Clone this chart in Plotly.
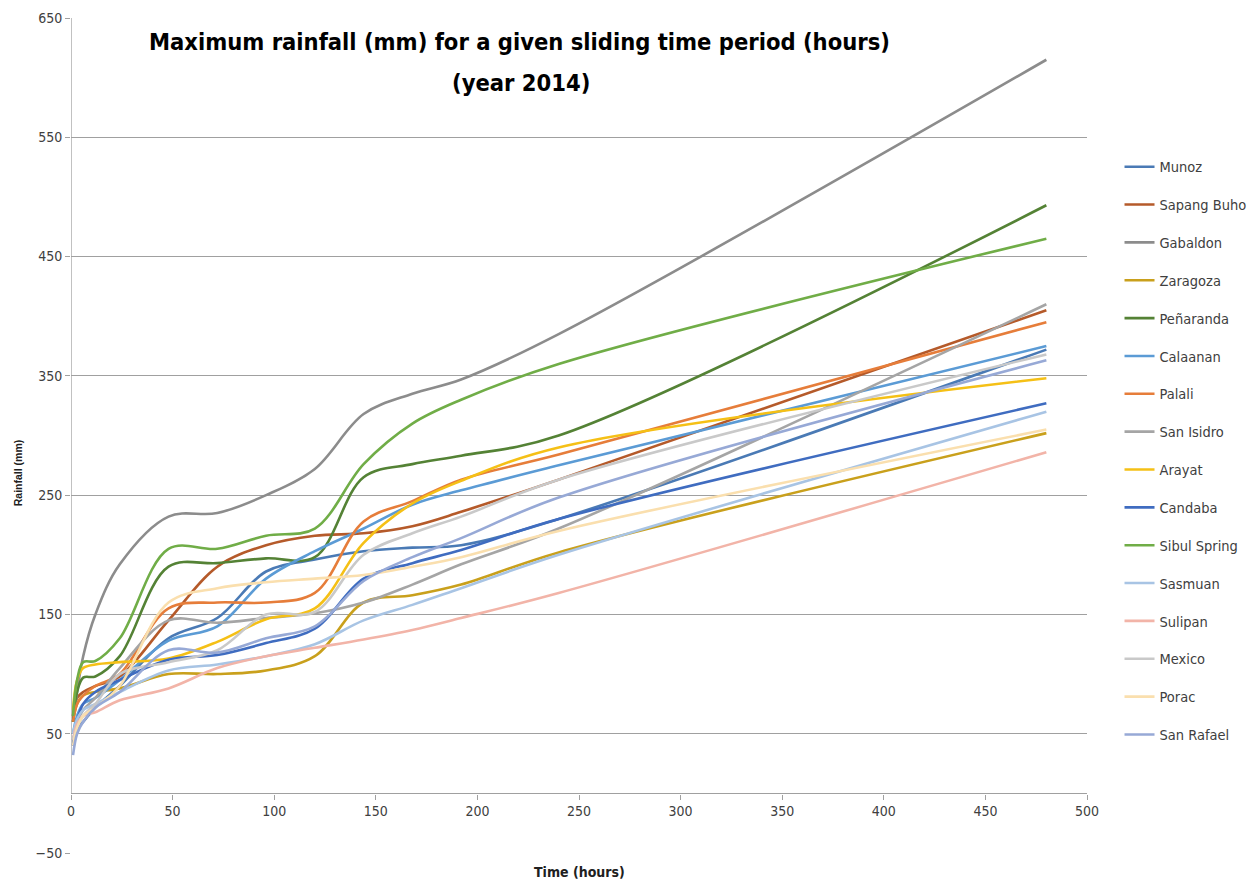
import plotly.graph_objects as go

HOURS = [1, 3, 6, 12, 24, 48, 72, 96, 120, 144, 168, 192, 240, 480]

munoz       = [45, 55, 60, 72, 90, 130, 147, 186, 196, 203, 206, 208, 230, 372]
sapang_buho = [65, 80, 85, 90, 98, 145, 190, 208, 216, 218, 224, 236, 263, 405]
gabaldon    = [60, 85, 115, 150, 192, 232, 235, 250, 272, 318, 335, 347, 385, 615]
zaragoza    = [60, 75, 82, 85, 88, 100, 100, 103, 115, 160, 166, 175, 202, 302]
penaranda   = [60, 85, 97, 98, 115, 190, 193, 197, 198, 265, 276, 283, 300, 493]
calaanan    = [50, 65, 75, 80, 95, 128, 140, 180, 203, 222, 242, 254, 275, 375]
palali      = [60, 75, 82, 90, 100, 155, 160, 160, 168, 228, 245, 263, 284, 395]
san_isidro  = [40, 60, 70, 80, 105, 145, 143, 147, 151, 160, 175, 192, 222, 410]
arayat      = [70, 95, 105, 108, 110, 113, 127, 146, 155, 210, 243, 262, 290, 348]
candaba     = [40, 60, 75, 85, 95, 112, 116, 126, 138, 180, 193, 204, 230, 327]
sibul       = [65, 95, 110, 111, 130, 205, 205, 216, 222, 276, 310, 330, 360, 465]
sasmuan     = [50, 62, 70, 75, 85, 103, 108, 115, 125, 145, 158, 172, 200, 320]
sulipan     = [45, 58, 65, 68, 78, 88, 105, 115, 122, 129, 137, 147, 168, 286]
mexico      = [45, 55, 65, 75, 100, 110, 120, 150, 152, 200, 218, 232, 263, 368]
porac       = [40, 55, 65, 72, 90, 160, 172, 177, 180, 183, 190, 198, 220, 305]
san_rafael  = [32, 50, 60, 72, 85, 120, 118, 130, 140, 178, 198, 214, 248, 363]

STATIONS = ["Munoz", "Sapang Buho", "Gabaldon", "Zaragoza", "Peñaranda", "Calaanan",
            "Palali", "San Isidro", "Arayat", "Candaba", "Sibul Spring", "Sasmuan",
            "Sulipan", "Mexico", "Porac", "San Rafael"]
VALUES = [munoz, sapang_buho, gabaldon, zaragoza, penaranda, calaanan, palali,
          san_isidro, arayat, candaba, sibul, sasmuan, sulipan, mexico, porac, san_rafael]
COLORS = ["#4a7ab5", "#b55a2a", "#8c8c8c", "#c9a01c", "#548235", "#5b9bd5",
          "#e67d3a", "#a5a5a5", "#f5c016", "#3f6cc0", "#70ad47", "#a8c4e4",
          "#f2b4a8", "#c9c9c9", "#fadfae", "#97a9d6"]

X_TICKS = [0, 50, 100, 150, 200, 250, 300, 350, 400, 450, 500]
Y_TICKS = [-50, 50, 150, 250, 350, 450, 550, 650]

TITLE_LINES = ["Maximum rainfall (mm) for a given sliding time period (hours)", "(year 2014)"]

FONT = "DejaVu Sans Condensed, DejaVu Sans, sans-serif"

fig = go.Figure()
for i, (name, vals, col) in enumerate(zip(STATIONS, VALUES, COLORS)):
    fig.add_trace(go.Scatter(
        x=HOURS, y=vals, name=name, mode="lines",
        line=dict(color=col, width=2.6, shape="spline", smoothing=1.0),
        legendgroup=f"g{i}",
    ))

Y_MIN, Y_MAX = Y_TICKS[0], Y_TICKS[-1]
zero_pos = (0 - Y_MIN) / (Y_MAX - Y_MIN)

fig.update_layout(
    width=1255, height=888,
    margin=dict(l=63, r=176, t=10, b=43, autoexpand=False),
    paper_bgcolor="white", plot_bgcolor="white",
    font=dict(family=FONT, color="#404040"),
    xaxis=dict(
        range=[X_TICKS[0], X_TICKS[-1]], tickmode="array", tickvals=X_TICKS,
        anchor="free", position=zero_pos,
        showline=True, linecolor="#a0a0a0", linewidth=1.3,
        ticks="outside", ticklen=5, tickcolor="#a0a0a0",
        showgrid=False, zeroline=False,
        tickfont=dict(size=14, color="#404040", family=FONT),
    ),
    yaxis=dict(
        range=[Y_MIN, Y_MAX], tickmode="array", tickvals=Y_TICKS,
        showgrid=True, gridcolor="#a0a0a0", gridwidth=1.3,
        showline=False, zeroline=False,
        ticks="outside", ticklen=5, tickcolor="#a0a0a0",
        tickfont=dict(size=14, color="#404040", family=FONT),
    ),
    legend=dict(
        x=1.032, xanchor="left", y=0.841, yanchor="top",
        font=dict(size=14.5, color="#404040", family=FONT),
        tracegroupgap=16, bgcolor="rgba(0,0,0,0)",
    ),
    showlegend=True,
)

# y axis line from the x-axis (y=0) to the top of the plot
fig.add_shape(type="line", xref="x", yref="y", x0=X_TICKS[0], x1=X_TICKS[0],
              y0=0, y1=Y_MAX, line=dict(color="#a0a0a0", width=1.3), layer="below")

# chart title (two lines, inside the plot area like the original)
fig.add_annotation(text=f"<b>{TITLE_LINES[0]}</b>", xref="paper", yref="paper",
                   x=(519 - 71) / 1016, xanchor="center", y=0.9713, yanchor="middle",
                   showarrow=False, font=dict(size=23.5, color="black", family=FONT))
fig.add_annotation(text=f"<b>{TITLE_LINES[1]}</b>", xref="paper", yref="paper",
                   x=(521 - 71) / 1016, xanchor="center", y=0.9222, yanchor="middle",
                   showarrow=False, font=dict(size=23.5, color="black", family=FONT))

fig.add_annotation(text="<b>Time (hours)</b>", xref="paper", yref="paper",
                   x=0.5, y=-0.0228, yanchor="middle", showarrow=False,
                   font=dict(size=14, color="#202020", family=FONT))
fig.add_annotation(text="<b>Rainfall (mm)</b>", xref="paper", yref="paper",
                   x=-0.052, xanchor="center", y=0.455, yanchor="middle",
                   textangle=-90, showarrow=False,
                   font=dict(size=10.5, color="#202020", family="Liberation Sans, Arial, sans-serif"))

fig.write_html("out.html")
